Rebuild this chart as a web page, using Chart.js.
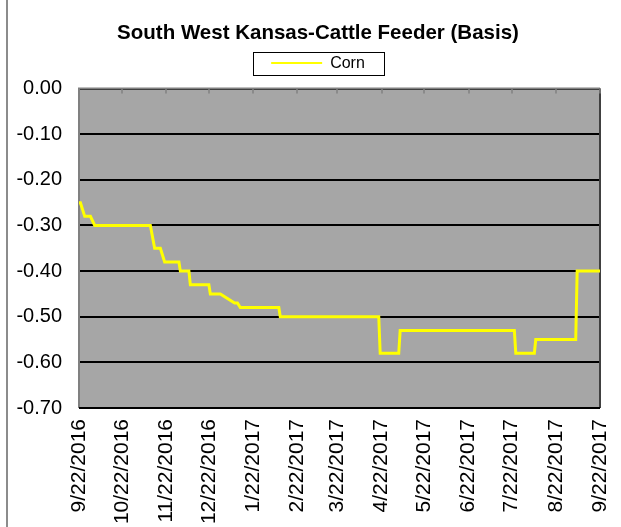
<!DOCTYPE html>
<html>
<head>
<meta charset="utf-8">
<script src="https://cdn.jsdelivr.net/npm/chart.js@4.4.1/dist/chart.umd.min.js"></script>
<style>
    html, body { margin: 0; padding: 0; background: #ffffff; }
    #wrap { position: relative; width: 621px; height: 527px; }
</style>
</head>
<body>
<div id="wrap"><canvas id="basis-chart" width="621" height="527"></canvas></div>
<script>
// dati
const pointDates = [
    "9/22/2016", "9/23/2016", "9/26/2016", "9/30/2016", "10/3/2016",
    "11/11/2016", "11/14/2016", "11/18/2016", "11/21/2016",
    "12/1/2016", "12/2/2016", "12/8/2016", "12/9/2016",
    "12/22/2016", "12/23/2016", "12/30/2016", "1/9/2017", "1/11/2017", "1/13/2017",
    "2/9/2017", "2/10/2017", "4/20/2017", "4/21/2017", "5/4/2017", "5/5/2017",
    "7/24/2017", "7/25/2017", "8/7/2017", "8/8/2017", "9/5/2017", "9/6/2017", "9/22/2017"
];
const cornBasis = [
    -0.25, -0.25, -0.28, -0.28, -0.30,
    -0.30, -0.35, -0.35, -0.38,
    -0.38, -0.40, -0.40, -0.43,
    -0.43, -0.45, -0.45, -0.47, -0.47, -0.48,
    -0.48, -0.50, -0.50, -0.58, -0.58, -0.53,
    -0.53, -0.58, -0.58, -0.55, -0.55, -0.40, -0.40
];
const tickDates = [
    "9/22/2016", "10/22/2016", "11/22/2016", "12/22/2016", "1/22/2017", "2/22/2017",
    "3/22/2017", "4/22/2017", "5/22/2017", "6/22/2017", "7/22/2017", "8/22/2017", "9/22/2017"
];
const yTicks = [0, -0.1, -0.2, -0.3, -0.4, -0.5, -0.6, -0.7];

function dayOf(str) {
    const [m, d, y] = str.split("/").map(Number);
    return Date.UTC(y, m - 1, d) / 86400000;
}
const day0 = dayOf(tickDates[0]);
const tickDays = tickDates.map((t) => dayOf(t) - day0);
const points = pointDates.map((t, i) => ({ x: dayOf(t) - day0, y: cornBasis[i] }));

// sfondo grigio, bordi, tacche in alto e linea a sinistra
const plotDecor = {
    id: "plotDecor",
    beforeDraw(chart) {
        const { ctx, chartArea: a } = chart;
        ctx.save();
        ctx.fillStyle = "#a6a6a6";
        ctx.fillRect(a.left, a.top, a.right - a.left, a.bottom - a.top);
        ctx.fillStyle = "#8c8c8c";
        ctx.fillRect(6, 0, 2, chart.height);
        ctx.restore();
    },
    beforeDatasetsDraw(chart) {
        const { ctx, chartArea: a, scales } = chart;
        ctx.save();
        ctx.strokeStyle = "#808080";
        ctx.lineWidth = 2;
        ctx.beginPath();
        ctx.moveTo(a.left, a.bottom);
        ctx.lineTo(a.left, a.top);
        ctx.lineTo(a.right, a.top);
        ctx.stroke();
        ctx.strokeStyle = "#404040";
        ctx.beginPath();
        ctx.moveTo(a.right, a.top);
        ctx.lineTo(a.right, a.bottom);
        ctx.stroke();
        ctx.strokeStyle = "#000000";
        ctx.beginPath();
        ctx.moveTo(a.left, a.bottom);
        ctx.lineTo(a.right, a.bottom);
        ctx.stroke();
        ctx.strokeStyle = "#808080";
        ctx.lineWidth = 1.5;
        tickDays.forEach((d) => {
            const x = Math.round(scales.x.getPixelForValue(d));
            ctx.beginPath();
            ctx.moveTo(x, a.top);
            ctx.lineTo(x, a.top + 5);
            ctx.stroke();
        });
        ctx.restore();
    },
    afterDraw(chart) {
        const { ctx } = chart;
        const hb = chart.legend.legendHitBoxes[0];
        if (!hb) return;
        ctx.save();
        ctx.strokeStyle = "#000000";
        ctx.lineWidth = 1;
        const w = 131, h = 23;
        const x = Math.round(hb.left + hb.width / 2 - w / 2) + 0.5;
        const y = Math.round(hb.top + hb.height / 2 - h / 2) + 0.5;
        ctx.strokeRect(x, y, w, h);
        ctx.restore();
    }
};

const ctx = document.getElementById("basis-chart").getContext("2d");
window.myChart = new Chart(ctx, {
    type: "line",
    data: {
        datasets: [
            {
                label: "Corn",
                data: points,
                borderColor: "#ffff00",
                backgroundColor: "#ffff00",
                borderWidth: 3,
                pointRadius: 0,
                tension: 0,
            },
        ],
    },
    options: {
        responsive: false,
        animation: false,
        // padding destro negativo: sposta il centro di titolo e legenda come nell'originale
        layout: { padding: { left: 0, right: -15, top: 0, bottom: 0 } },
        plugins: {
            title: {
                display: true,
                text: "South West Kansas-Cattle Feeder (Basis)",
                color: "#000000",
                font: { family: "Liberation Sans, Arial", size: 20.5, weight: "bold" },
                padding: { top: 21, bottom: 0 },
            },
            // spazio vuoto tra legenda e area del grafico
            subtitle: {
                display: true,
                text: "",
                weight: 500,
                font: { size: 5 },
                padding: { top: 0, bottom: 1.5 },
            },
            legend: {
                display: true,
                labels: {
                    color: "#000000",
                    font: { family: "Liberation Sans, Arial", size: 16 },
                    boxWidth: 51,
                    boxHeight: 0,
                    padding: 9.5,
                    generateLabels: (chart) => [{
                        text: "Corn",
                        strokeStyle: "#ffff00",
                        fillStyle: "#ffff00",
                        lineWidth: 2,
                        datasetIndex: 0,
                    }],
                },
            },
            tooltip: { enabled: false },
        },
        scales: {
            x: {
                type: "linear",
                min: tickDays[0],
                max: tickDays[tickDays.length - 1],
                afterBuildTicks: (scale) => {
                    scale.ticks = tickDays.map((v) => ({ value: v }));
                },
                afterFit: (scale) => {
                    scale.height = 119;
                    scale.paddingRight = 21;
                    scale.paddingLeft = 0;
                },
                grid: { display: false },
                border: { display: false },
                ticks: {
                    autoSkip: false,
                    minRotation: 90,
                    maxRotation: 90,
                    padding: 3,
                    color: "#000000",
                    font: { family: "Liberation Sans, Arial", size: 21 },
                    callback: (v) => tickDates[tickDays.indexOf(v)],
                },
            },
            y: {
                min: -0.7,
                max: 0,
                afterBuildTicks: (scale) => {
                    scale.ticks = yTicks.map((v) => ({ value: v }));
                },
                afterFit: (scale) => { scale.width = 79; },
                grid: { color: "#000000", lineWidth: 2, drawTicks: false },
                border: { display: false },
                ticks: {
                    padding: 17,
                    color: "#000000",
                    font: { family: "Liberation Sans, Arial", size: 20 },
                    callback: (v) => v.toFixed(2),
                },
            },
        },
    },
    plugins: [plotDecor],
});
</script>
</body>
</html>
